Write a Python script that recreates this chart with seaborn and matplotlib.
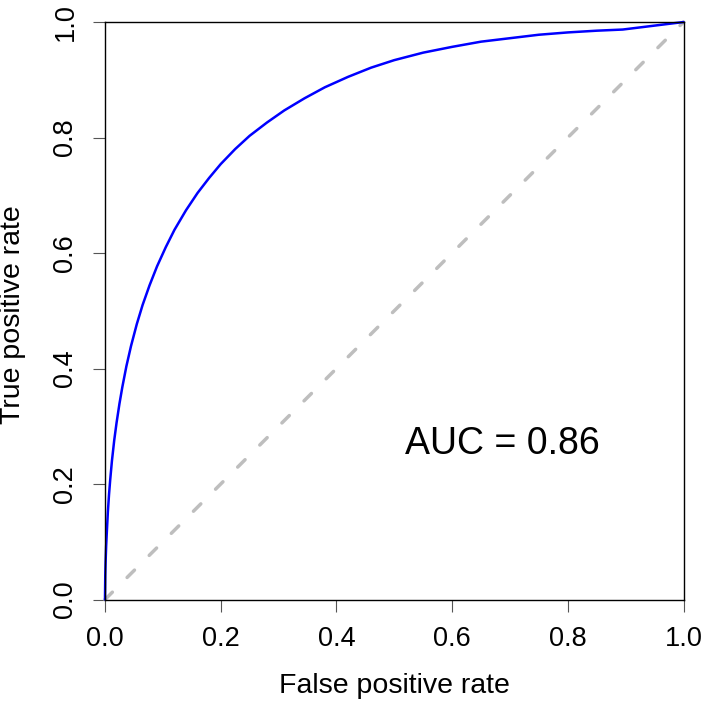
import matplotlib
matplotlib.use('Agg')
import matplotlib.pyplot as plt
import seaborn as sns
import pandas as pd

# ROC curve values
fpr = [0, 0.0005, 0.001, 0.002, 0.003, 0.005, 0.007, 0.009, 0.012, 0.016, 0.02,
       0.025, 0.03, 0.037, 0.045, 0.055, 0.065, 0.077, 0.09, 0.105, 0.12, 0.14,
       0.16, 0.18, 0.2, 0.225, 0.25, 0.28, 0.31, 0.345, 0.38, 0.42, 0.46, 0.5,
       0.55, 0.6, 0.65, 0.7, 0.75, 0.8, 0.85, 0.895, 1.0]
tpr = [0, 0.042, 0.063, 0.092, 0.113, 0.152, 0.182, 0.207, 0.24, 0.276, 0.306,
       0.339, 0.368, 0.404, 0.439, 0.477, 0.51, 0.544, 0.577, 0.61, 0.64, 0.674,
       0.704, 0.73, 0.754, 0.78, 0.803, 0.826, 0.847, 0.868, 0.887, 0.905, 0.921, 0.934,
       0.947, 0.957, 0.966, 0.972, 0.978, 0.982, 0.985, 0.987, 1.0]
diag = [0, 1]
ticks = [0.0, 0.2, 0.4, 0.6, 0.8, 1.0]
tick_labels = ['0.0', '0.2', '0.4', '0.6', '0.8', '1.0']
auc_text = 'AUC = 0.86'

roc = pd.DataFrame({'fpr': fpr, 'tpr': tpr})
chance = pd.DataFrame({'fpr': diag, 'tpr': diag})

sns.set_theme(style='white')
plt.rcParams['font.family'] = ['Liberation Sans', 'DejaVu Sans']

fig = plt.figure(figsize=(7.06, 7.06), dpi=100)
ax = fig.add_axes([0.1487, 0.1508, 0.8195, 0.818])

# chance line
sns.lineplot(data=chance, x='fpr', y='tpr', ax=ax, color='#BEBEBE',
             linewidth=2.5, sort=False, estimator=None, clip_on=False)
ax.lines[-1].set_dashes((3, 6))
ax.lines[-1].set_dash_capstyle('round')

# ROC curve
sns.lineplot(data=roc, x='fpr', y='tpr', ax=ax, color='#0000FF',
             linewidth=1.8, sort=False, estimator=None, clip_on=False)

ax.set_xlim(0, 1)
ax.set_ylim(0, 1)
ax.set_xticks(ticks)
ax.set_xticklabels(tick_labels)
ax.set_yticks(ticks)
ax.set_yticklabels(tick_labels, rotation=90, va='center')

ax.tick_params(axis='both', direction='out', length=8.6, width=0.8,
               color='#555555', labelsize=19.5, pad=10.5, labelcolor='black')
ax.tick_params(bottom=True, left=True)

for s in ax.spines.values():
    s.set_color('black')
    s.set_linewidth(1.0)

ax.set_xlabel('False positive rate', fontsize=20.5, color='black')
ax.set_ylabel('True positive rate', fontsize=20.5, color='black')
ax.xaxis.set_label_coords(0.5, -0.128)
ax.yaxis.set_label_coords(-0.137, 0.493)

ax.text(0.519, 0.27, auc_text, fontsize=27, ha='left', va='center',
        color='black', transform=ax.transData)

fig.savefig('out.png', dpi=100)
